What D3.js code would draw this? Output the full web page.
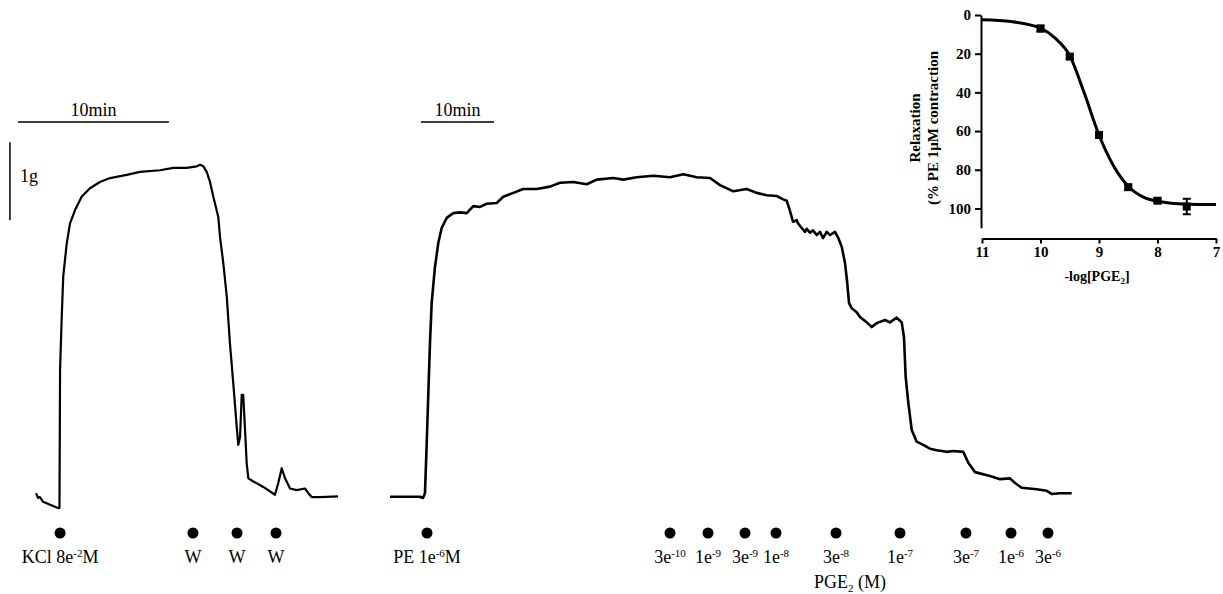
<!DOCTYPE html>
<html>
<head>
<meta charset="utf-8">
<script src="https://cdn.jsdelivr.net/npm/d3@7"></script>
<style>
  body { margin: 0; background: #fff; }
  svg { display: block; }
  .trace { fill: none; stroke: #000; stroke-linejoin: round; }
  .lbl { font-family: "Liberation Serif", "Times New Roman", serif; font-size: 18px; fill: #000; }
  .inset text { font-family: "Liberation Serif", "Times New Roman", serif; font-weight: bold; }
</style>
</head>
<body>
<div id="chart"></div>
<script>
// KCl trace (minutes, grams)
const leftTime = [0.07, 0.2, 0.33, 0.53, 1.52, 1.62, 1.66, 1.77, 1.87, 2.10, 2.32, 2.65, 3.09, 3.64, 4.30, 4.97, 6.07, 6.95, 8.28, 9.16, 10.05, 10.71, 10.93, 11.15, 11.37, 11.59, 11.81, 12.14, 12.25, 12.47, 12.70, 12.91, 13.13, 13.36, 13.46, 13.58, 13.69, 13.79, 13.91, 14.02, 14.13, 14.46, 15.12, 15.89, 16.11, 16.34, 16.56, 16.89, 17.33, 17.88, 18.10, 18.32, 18.87, 20.07];
const leftForce = [0.19, 0.13, 0.14, 0.08, 0.0, 0.0, 1.77, 2.45, 2.97, 3.39, 3.65, 3.82, 3.99, 4.10, 4.18, 4.23, 4.27, 4.31, 4.33, 4.36, 4.36, 4.38, 4.40, 4.38, 4.31, 4.18, 3.99, 3.73, 3.48, 3.14, 2.71, 2.11, 1.60, 1.04, 0.81, 0.91, 1.45, 1.45, 1.00, 0.57, 0.38, 0.34, 0.27, 0.17, 0.32, 0.51, 0.38, 0.25, 0.23, 0.25, 0.19, 0.14, 0.14, 0.15];

// PE + PGE2 trace (minutes, grams)
const rightTime = [0, 4.11, 4.52, 4.79, 5.03, 5.25, 5.48, 5.71, 6.16, 6.62, 7.08, 7.77, 8.67, 9.59, 10.51, 11.41, 12.33, 13.25, 14.62, 15.52, 16.89, 18.26, 20.10, 21.92, 23.29, 25.11, 26.95, 28.32, 30.59, 31.96, 33.79, 36.07, 38.36, 40.18, 42.01, 43.84, 45.21, 47.03, 48.86, 50.23, 51.60, 52.97, 53.80, 54.34, 54.79, 55.21, 55.71, 55.89, 56.40, 56.85, 57.08, 57.53, 57.95, 58.45, 58.90, 59.32, 59.82, 60.27, 60.96, 61.37, 61.88, 62.33, 62.60, 62.88, 63.25, 63.93, 64.38, 65.30, 65.99, 66.67, 67.81, 68.49, 69.41, 70.10, 70.41, 70.64, 71.00, 71.47, 72.15, 73.05, 73.97, 74.89, 76.26, 77.16, 78.53, 79.22, 80.14, 82.19, 83.56, 84.93, 85.62, 86.53, 88.59, 89.96, 90.64, 91.78, 93.38];
const rightForce = [0.145, 0.145, 0.128, 0.19, 0.83, 1.47, 2.12, 2.63, 3.09, 3.40, 3.59, 3.72, 3.78, 3.79, 3.78, 3.87, 3.86, 3.90, 3.91, 3.99, 4.04, 4.09, 4.09, 4.12, 4.17, 4.18, 4.15, 4.21, 4.23, 4.21, 4.24, 4.26, 4.24, 4.28, 4.24, 4.23, 4.14, 4.06, 4.09, 4.04, 4.01, 4.00, 3.96, 3.94, 3.81, 3.67, 3.69, 3.65, 3.59, 3.54, 3.58, 3.53, 3.56, 3.50, 3.54, 3.46, 3.54, 3.50, 3.54, 3.47, 3.35, 3.14, 2.92, 2.63, 2.56, 2.51, 2.45, 2.38, 2.32, 2.37, 2.41, 2.38, 2.44, 2.38, 2.19, 1.68, 1.35, 1.00, 0.85, 0.81, 0.76, 0.74, 0.72, 0.73, 0.72, 0.58, 0.46, 0.41, 0.37, 0.38, 0.32, 0.26, 0.24, 0.22, 0.18, 0.19, 0.19];

// additions
const leftDoseTime = [1.66, 10.46, 13.38, 15.96];
const leftDoseText = ["KCl 8e", "W", "W", "W"];
const leftDoseSup = ["-2", "", "", ""];
const leftDoseTail = ["M", "", "", ""];

const rightDoseTime = [5.07, 38.36, 43.56, 48.63, 52.88, 61.10, 69.86, 78.90, 85.07, 90.14];
const rightDoseText = ["PE 1e", "3e", "1e", "3e", "1e", "3e", "1e", "3e", "1e", "3e"];
const rightDoseSup = ["-6", "-10", "-9", "-9", "-8", "-8", "-7", "-7", "-6", "-6"];
const rightDoseTail = ["M", "", "", "", "", "", "", "", "", ""];

// inset concentration-response
const logConc = [10, 9.5, 9, 8.5, 8, 7.5];
const relax = [7, 21.5, 62, 89, 96, 99];
const relaxErr = [1.5, 1.2, 1.5, 1.2, 1.2, 4];
const fitLog = [11, 10.5, 10, 9.75, 9.5, 9.25, 9, 8.75, 8.5, 8.25, 8, 7.5, 7];
const fitRelax = [2.5, 3.4, 6.8, 12, 21, 40.5, 62, 78, 88.5, 94, 96.3, 97.8, 98];
const insetXTicks = [11, 10, 9, 8, 7];
const insetYTicks = [0, 20, 40, 60, 80, 100];

const W = 1223, H = 594;
const svg = d3.select("#chart").append("svg").attr("width", W).attr("height", H);

const yG = d3.scaleLinear().domain([0, 1]).range([508, 430]);
const xL = d3.scaleLinear().domain([0, 10]).range([35, 186]);
const xR = d3.scaleLinear().domain([0, 10]).range([390, 463]);

const line = (xs) => d3.line().x(d => xs(d[0])).y(d => yG(d[1]));

svg.append("path").attr("class", "trace").attr("stroke-width", 2.2)
  .attr("d", line(xL)(d3.zip(leftTime, leftForce)));
svg.append("path").attr("class", "trace").attr("stroke-width", 2.6)
  .attr("d", line(xR)(d3.zip(rightTime, rightForce)));

// scale bars
const barY = 122;
svg.append("line").attr("x1", xL(-1.13)).attr("x2", xL(8.87)).attr("y1", barY).attr("y2", barY)
  .attr("stroke", "#000").attr("stroke-width", 1.5);
svg.append("text").attr("class", "lbl").attr("x", xL(3.87)).attr("y", 116)
  .attr("text-anchor", "middle").text("10min");
svg.append("line").attr("x1", xR(4.25)).attr("x2", xR(14.25)).attr("y1", barY).attr("y2", barY)
  .attr("stroke", "#000").attr("stroke-width", 1.5);
svg.append("text").attr("class", "lbl").attr("x", xR(9.25)).attr("y", 116)
  .attr("text-anchor", "middle").text("10min");
svg.append("line").attr("x1", xL(-1.66)).attr("x2", xL(-1.66)).attr("y1", yG(4.69)).attr("y2", yG(3.69))
  .attr("stroke", "#000").attr("stroke-width", 1.5);
svg.append("text").attr("class", "lbl").attr("x", 20).attr("y", 182).text("1g");

// dose markers
function doses(xs, times, txt, sup, tail) {
  const g = svg.append("g");
  g.selectAll("circle").data(times).join("circle")
    .attr("cx", d => xs(d)).attr("cy", 533).attr("r", 5.5).attr("fill", "#000");
  const t = g.selectAll("text").data(times).join("text").attr("class", "lbl")
    .attr("x", d => xs(d)).attr("y", 563).attr("text-anchor", "middle");
  t.append("tspan").text((d, i) => txt[i]);
  t.append("tspan").attr("font-size", 11).attr("dy", -6).text((d, i) => sup[i]);
  t.append("tspan").attr("dy", (d, i) => sup[i] ? 6 : 0).text((d, i) => tail[i]);
}
doses(xL, leftDoseTime, leftDoseText, leftDoseSup, leftDoseTail);
doses(xR, rightDoseTime, rightDoseText, rightDoseSup, rightDoseTail);

const pge = svg.append("text").attr("class", "lbl").attr("x", 850).attr("y", 588).attr("text-anchor", "middle");
pge.append("tspan").text("PGE");
pge.append("tspan").attr("font-size", 11).attr("dy", 4).text("2");
pge.append("tspan").attr("dy", -4).text(" (M)");

// inset
const xI = d3.scaleLinear().domain([11, 7]).range([982, 1216]);
const yI = d3.scaleLinear().domain([0, 110]).range([15, 227.8]);
const inset = svg.append("g").attr("class", "inset");

inset.append("g").attr("transform", "translate(981,0)")
  .call(d3.axisLeft(yI).tickValues(insetYTicks).tickSize(6).tickSizeOuter(0).tickPadding(4))
  .call(g => g.selectAll("text").attr("font-size", 15))
  .call(g => g.selectAll("path,line").attr("stroke-width", 2));
inset.append("g").attr("transform", "translate(0,238.5)")
  .call(d3.axisBottom(xI).tickValues(insetXTicks).tickFormat(d3.format("d")).tickSize(5).tickSizeOuter(0).tickPadding(3))
  .call(g => g.selectAll("text").attr("font-size", 15))
  .call(g => g.selectAll("path,line").attr("stroke-width", 2));

inset.append("path").attr("fill", "none").attr("stroke", "#000").attr("stroke-width", 3)
  .attr("d", d3.line().curve(d3.curveMonotoneX).x(d => xI(d[0])).y(d => yI(d[1]))(d3.zip(fitLog, fitRelax)));

const pts = d3.zip(logConc, relax, relaxErr);
inset.selectAll("line.err").data(pts).join("line").attr("class", "err")
  .attr("x1", d => xI(d[0])).attr("x2", d => xI(d[0]))
  .attr("y1", d => yI(d[1] - d[2])).attr("y2", d => yI(d[1] + d[2]))
  .attr("stroke", "#000").attr("stroke-width", 2);
inset.selectAll("line.capT").data(pts).join("line").attr("class", "capT")
  .attr("x1", d => xI(d[0]) - 4).attr("x2", d => xI(d[0]) + 4)
  .attr("y1", d => yI(d[1] - d[2])).attr("y2", d => yI(d[1] - d[2]))
  .attr("stroke", "#000").attr("stroke-width", 2);
inset.selectAll("line.capB").data(pts).join("line").attr("class", "capB")
  .attr("x1", d => xI(d[0]) - 4).attr("x2", d => xI(d[0]) + 4)
  .attr("y1", d => yI(d[1] + d[2])).attr("y2", d => yI(d[1] + d[2]))
  .attr("stroke", "#000").attr("stroke-width", 2);
inset.selectAll("rect").data(pts).join("rect")
  .attr("x", d => xI(d[0]) - 4).attr("y", d => yI(d[1]) - 4)
  .attr("width", 8).attr("height", 8).attr("fill", "#000");

const xt = inset.append("text").attr("x", 1097).attr("y", 281).attr("text-anchor", "middle").attr("font-size", 14);
xt.append("tspan").text("-log[PGE");
xt.append("tspan").attr("font-size", 9).attr("dy", 3).text("2");
xt.append("tspan").attr("dy", -3).text("]");

inset.append("text").attr("transform", "translate(920,128) rotate(-90)")
  .attr("text-anchor", "middle").attr("font-size", 15).text("Relaxation");
inset.append("text").attr("transform", "translate(938,128) rotate(-90)")
  .attr("text-anchor", "middle").attr("font-size", 15).text("(% PE 1\u00b5M contraction");
</script>
</body>
</html>
